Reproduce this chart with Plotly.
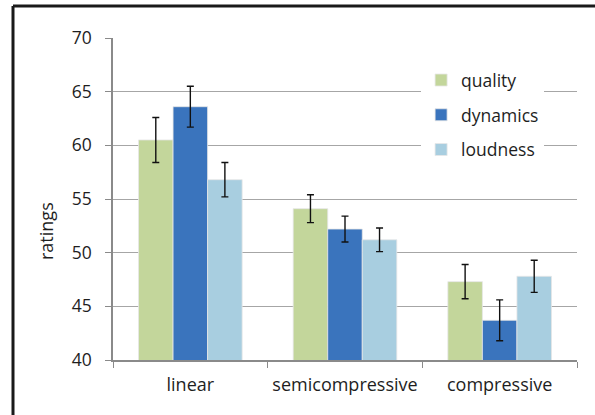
import plotly.graph_objects as go

categories = ["linear", "semicompressive", "compressive"]
series_names = ["quality", "dynamics", "loudness"]
quality = [60.5, 54.1, 47.3]
quality_err = [2.1, 1.3, 1.6]
dynamics = [63.6, 52.2, 43.7]
dynamics_err = [1.9, 1.2, 1.9]
loudness = [56.8, 51.2, 47.8]
loudness_err = [1.6, 1.1, 1.5]
colors = ["#c3d69b", "#3a74bd", "#a8cee0"]
y_ticks = [40, 45, 50, 55, 60, 65, 70]

FONT = "Open Sans"
TXT = "#1e1e1e"
fig = go.Figure()
for name, vals, errs, col in zip(series_names, [quality, dynamics, loudness],
                                 [quality_err, dynamics_err, loudness_err], colors):
    fig.add_trace(go.Bar(
        name=name, x=categories, y=vals, legendgroup=name,
        marker=dict(color=col, line=dict(color="rgba(230,230,230,0.8)", width=1)),
        error_y=dict(type="data", array=errs, visible=True, color="#111111",
                     thickness=1.4, width=3.5),
    ))

fig.update_layout(
    width=595, height=415,
    margin=dict(l=113, r=18, t=38, b=55),
    paper_bgcolor="white", plot_bgcolor="white",
    barmode="group", bargap=0.33, bargroupgap=0,
    font=dict(family=FONT, size=17, color=TXT),
    showlegend=True,
    legend=dict(x=0.664, y=0.925, xanchor="left", yanchor="top",
                bgcolor="white", font=dict(family=FONT, size=17.5, color=TXT),
                traceorder="grouped", tracegroupgap=9, itemwidth=30),
    xaxis=dict(showline=True, linecolor="#8a8a8a", linewidth=1.5,
               ticks="outside", tickson="boundaries", ticklen=6, tickcolor="#8a8a8a",
               tickfont=dict(family=FONT, size=18, color=TXT), ticklabelstandoff=8,
               showgrid=False),
    yaxis=dict(range=[40, 70], tickvals=y_ticks, showline=True, linecolor="#8a8a8a",
               linewidth=1.5, ticks="outside", ticklen=6, tickcolor="#8a8a8a",
               showgrid=True, gridcolor="#a6a6a6", gridwidth=1.2,
               tickfont=dict(family=FONT, size=17.5, color=TXT), ticklabelstandoff=10,
               zeroline=False),
)

fig.add_annotation(text="ratings", xref="paper", yref="paper",
                   x=(46 - 113) / 464, y=(360 - 231) / 322, textangle=-90,
                   showarrow=False, xanchor="center", yanchor="middle",
                   font=dict(family=FONT, size=18, color=TXT))

# outer frame (black border at top and left)
fig.add_shape(type="line", xref="paper", yref="paper",
              x0=-100/464, x1=1.1, y0=(360-6)/322, y1=(360-6)/322,
              line=dict(color="#1a1a1a", width=3))
fig.add_shape(type="line", xref="paper", yref="paper",
              x0=-100/464, x1=-100/464, y0=(360-6)/322, y1=-0.2,
              line=dict(color="#1a1a1a", width=3))

fig.write_html("out.html")
